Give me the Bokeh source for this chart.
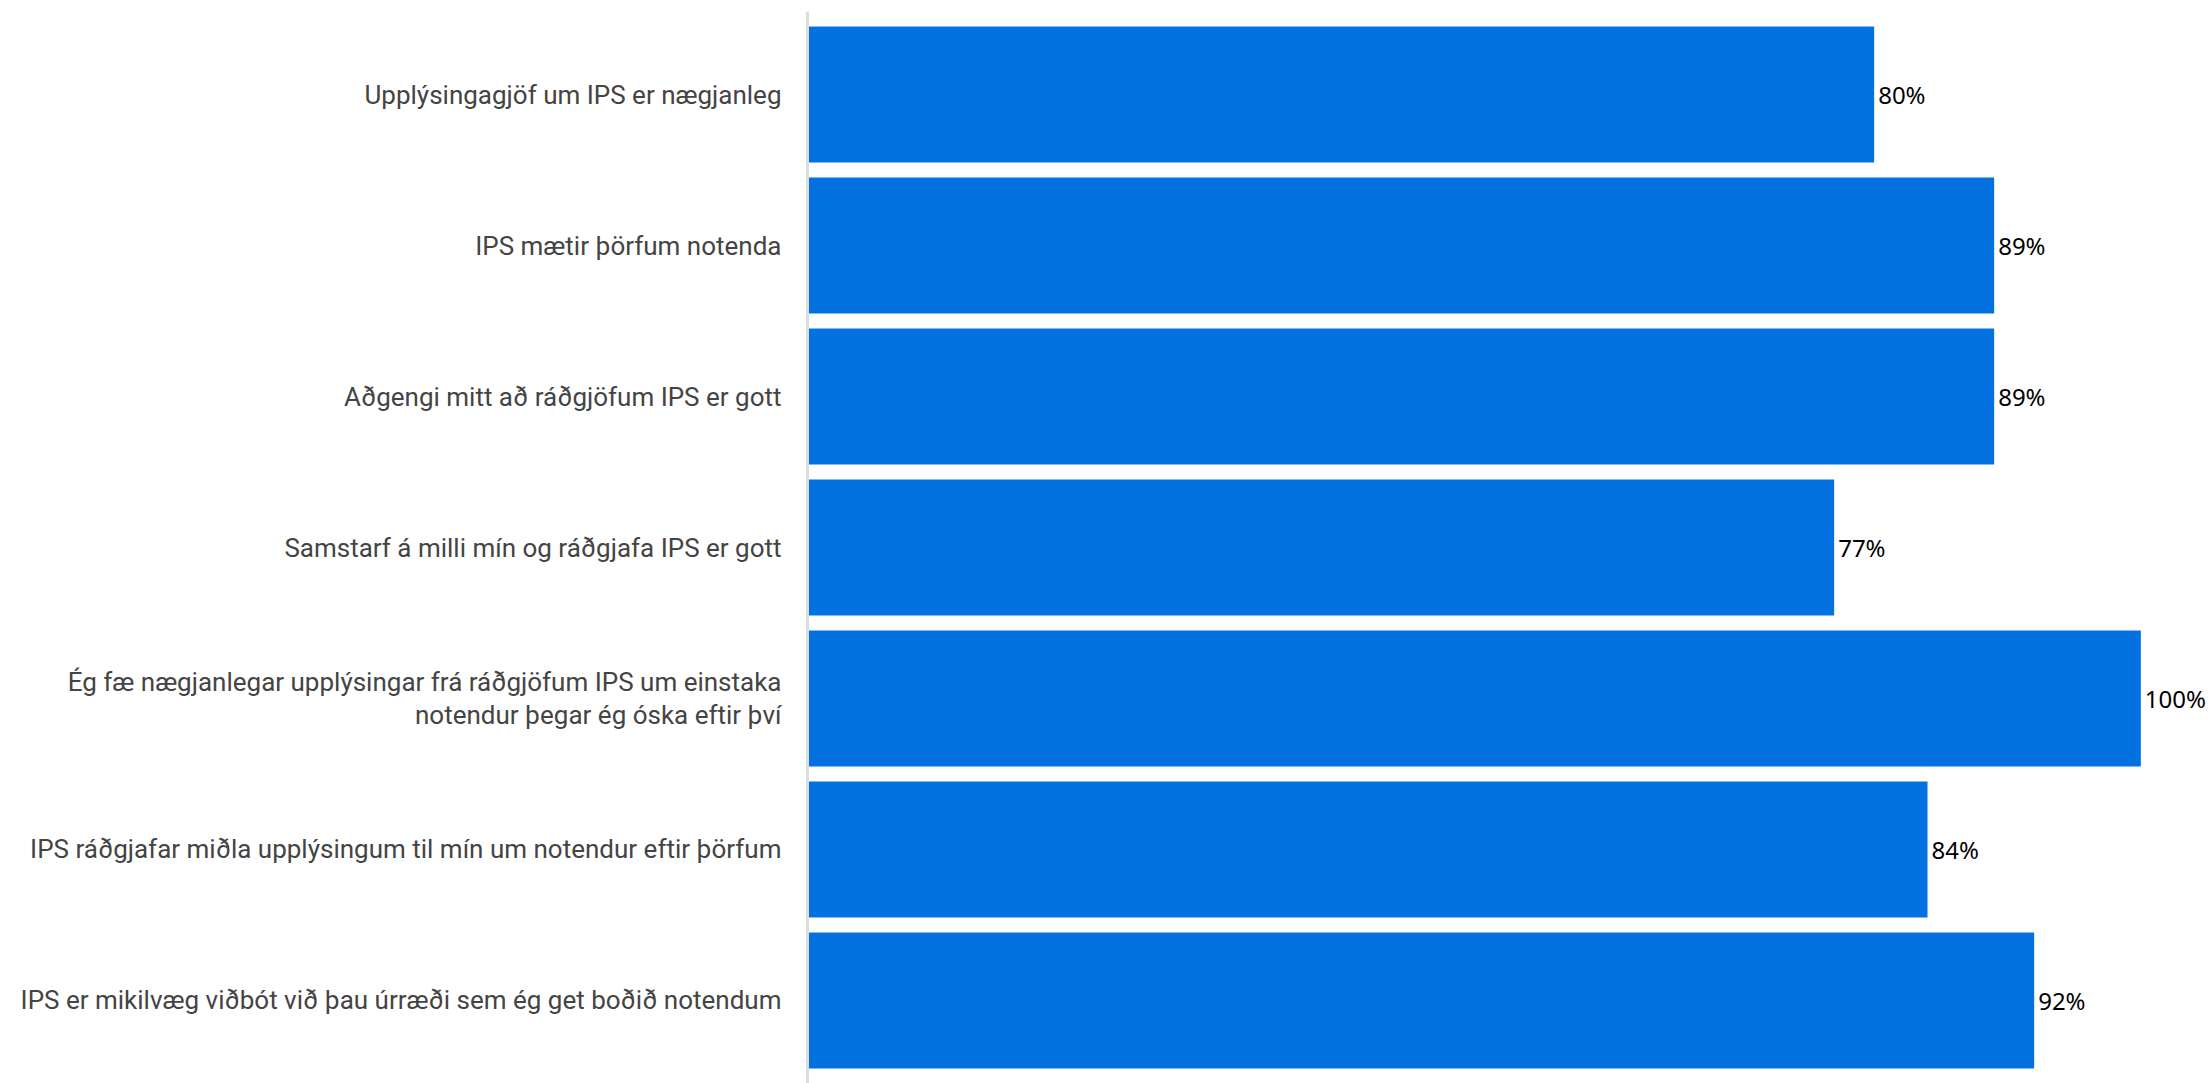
from bokeh.plotting import figure
from bokeh.models import ColumnDataSource, FactorRange
from bokeh.core.properties import value
from bokeh.embed import file_html
from bokeh.resources import INLINE

categories = [
    "Upplýsingagjöf um IPS er nægjanleg",
    "IPS mætir þörfum notenda",
    "Aðgengi mitt að ráðgjöfum IPS er gott",
    "Samstarf á milli mín og ráðgjafa IPS er gott",
    "Ég fæ nægjanlegar upplýsingar frá ráðgjöfum IPS um einstaka\nnotendur þegar ég óska eftir því",
    "IPS ráðgjafar miðla upplýsingum til mín um notendur eftir þörfum",
    "IPS er mikilvæg viðbót við þau úrræði sem ég get boðið notendum",
]
values = [80, 89, 89, 77, 100, 84, 92]
labels = [f"{v}%" for v in values]

source = ColumnDataSource(dict(cat=categories, val=values, lab=labels))

y_range = FactorRange(factors=list(reversed(categories)),
                      range_padding=0.05, range_padding_units="absolute")

p = figure(width=2211, height=1083, y_range=y_range, x_range=(0, 105.3),
           output_backend="svg", toolbar_location=None,
           min_border_left=807, min_border_right=0, min_border_top=11,
           min_border_bottom=0)

p.hbar(y="cat", right="val", left=0, height=0.9, source=source,
       fill_color="#0372e0", line_color=None)

p.text(x="val", y="cat", text="lab", source=source, x_offset=4,
       text_baseline="middle", text_align="left",
       text_font=value("Noto Sans"), text_font_size="24px", text_color="#000000")

p.xaxis.visible = False
p.xgrid.grid_line_color = None
p.ygrid.grid_line_color = None
p.outline_line_color = None

ax = p.yaxis[0]
ax.axis_line_color = "#dddddd"
ax.axis_line_width = 3
ax.major_tick_line_color = None
ax.minor_tick_line_color = None
ax.major_label_standoff = 20
ax.major_label_text_font = "Roboto"
ax.major_label_text_font_size = "26px"
ax.major_label_text_line_height = 1.08
ax.major_label_text_color = "#444444"

open("out.html", "w").write(file_html(p, INLINE))
